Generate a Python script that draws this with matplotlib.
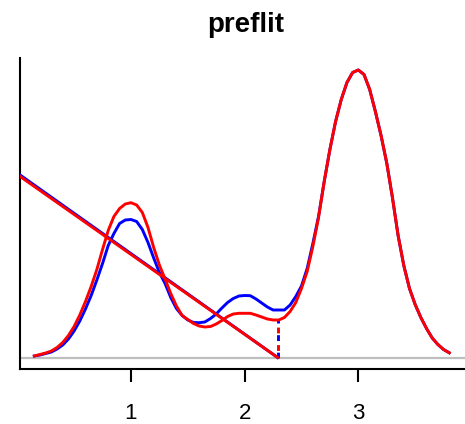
import numpy as np
import matplotlib
matplotlib.use("Agg")
import matplotlib.pyplot as plt

plt.rcParams["font.family"] = ["Liberation Sans", "DejaVu Sans"]

# Sample positions of the two density curves
x_grid = np.linspace(0.15, 3.80, 74)

red_density = [
    0.015, 0.03, 0.045, 0.065, 0.10, 0.15, 0.22, 0.31, 0.425, 0.56,
    0.71, 0.88, 1.08, 1.27, 1.41, 1.49, 1.535, 1.548,
    1.525, 1.45, 1.30, 1.10, 0.925, 0.785, 0.64, 0.515, 0.42, 0.38,
    0.34, 0.315, 0.305, 0.31, 0.335, 0.37, 0.41, 0.435, 0.442, 0.442,
    0.442, 0.425, 0.405, 0.385, 0.375, 0.375, 0.40, 0.46, 0.55, 0.69,
    0.86, 1.11, 1.40, 1.76, 2.08, 2.36, 2.58, 2.75, 2.85, 2.875,
    2.83, 2.68, 2.46, 2.22, 1.945, 1.60, 1.22, 0.92, 0.69, 0.53,
    0.40, 0.29, 0.195, 0.13, 0.08, 0.047,
]

blue_density = [
    0.015, 0.025, 0.04, 0.055, 0.085, 0.125, 0.185, 0.265, 0.365, 0.485,
    0.62, 0.775, 0.94, 1.12, 1.24, 1.34, 1.375, 1.38,
    1.36, 1.28, 1.15, 0.995, 0.85, 0.74, 0.60, 0.49, 0.42, 0.375,
    0.35, 0.348, 0.355, 0.39, 0.435, 0.495, 0.55, 0.59, 0.615, 0.62,
    0.618, 0.585, 0.545, 0.505, 0.475, 0.475, 0.475, 0.525, 0.61, 0.715,
    0.89, 1.14, 1.41, 1.76, 2.08, 2.36, 2.58, 2.75, 2.85, 2.875,
    2.83, 2.68, 2.46, 2.22, 1.945, 1.60, 1.22, 0.92, 0.69, 0.53,
    0.40, 0.29, 0.195, 0.13, 0.08, 0.047,
]

# Straight fitted lines (endpoints) and the cut position
line_x = [0.0, 2.29]
red_line_y = [1.83, 0.0]
blue_line_y = [1.845, 0.0]
cut_x = 2.29
cut_height = 0.375

tick_values = [1, 2, 3]
tick_labels = ["1", "2", "3"]
title_text = "preflit"

W, H = 465, 424
fig = plt.figure(figsize=(W / 100, H / 100), dpi=100)
ax = fig.add_axes([20 / W, 55 / H, 452 / W, 311 / H])

ax.set_xlim(0.024, 4.0)
ax.set_ylim(-0.115, 2.995)

ax.axhline(0, color="#bebebe", lw=1.6, zorder=1)

lw = 2.1
ax.plot(x_grid, blue_density, color="#0000ff", lw=lw, zorder=3,
        solid_joinstyle="round")
ax.plot(line_x, blue_line_y, color="#0000ff", lw=lw, zorder=3)
ax.plot([cut_x, cut_x], [0, cut_height], color="#0000ff", lw=lw,
        linestyle=(0, (2, 4)), zorder=3)

ax.plot(x_grid, red_density, color="#ff0000", lw=lw, zorder=4,
        solid_joinstyle="round")
ax.plot(line_x, red_line_y, color="#ff0000", lw=lw, zorder=4)
ax.plot([cut_x, cut_x], [0, cut_height], color="#ff0000", lw=lw,
        linestyle=(3.4, (2, 4)), zorder=4)

for side in ("top", "right"):
    ax.spines[side].set_visible(False)
for side in ("left", "bottom"):
    ax.spines[side].set_linewidth(1.5)
    ax.spines[side].set_color("black")

ax.set_yticks([])
ax.set_xticks(tick_values)
ax.set_xticklabels(tick_labels)
ax.tick_params(axis="x", length=9.6, width=1.5, pad=15, labelsize=16,
               colors="black")

fig.text(246 / W, 1 - 31.7 / H, title_text, ha="center", va="baseline",
         fontsize=20, fontweight="bold")

fig.savefig("out.png", dpi=100)
